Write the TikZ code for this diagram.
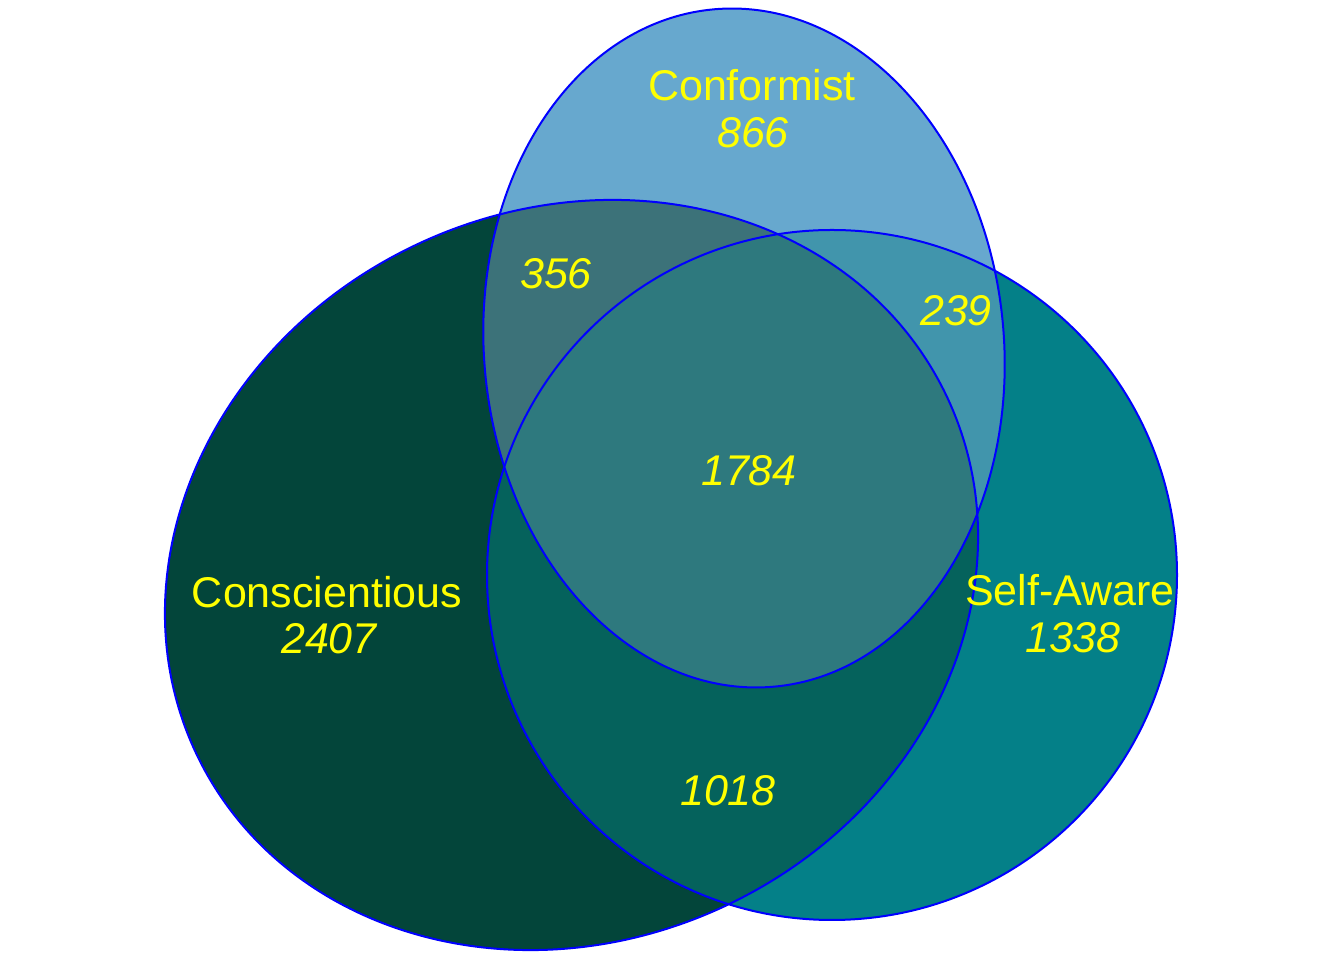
\documentclass[tikz,border=0pt]{standalone}
\usepackage{fontspec}
\setmainfont{Liberation Sans}
\definecolor{consC}{HTML}{03453A}
\definecolor{selfC}{HTML}{048088}
\definecolor{confC}{HTML}{67A8CE}
\definecolor{consSelf}{HTML}{05625C}
\definecolor{consConf}{HTML}{3C7279}
\definecolor{confSelf}{HTML}{4195AC}
\definecolor{allC}{HTML}{2E797E}
\definecolor{edgeC}{HTML}{0000FF}
\definecolor{labC}{HTML}{FFFF00}
\tikzset{
  lab/.style={text=labC, inner sep=0pt, anchor=base, font=\fontsize{43}{47}\selectfont},
  num/.style={lab, font=\fontsize{43}{47}\selectfont\itshape},
  outline/.style={draw=edgeC, line width=2pt},
  consT/.style={rotate around={25.8:(571.5,385)}},
  confT/.style={rotate around={5:(744,612)}},
}
\def\conspath{(571.5,385) ellipse [x radius=415.6, y radius=364.9]}
\def\confpath{(744,612) ellipse [x radius=260, y radius=340]}
\def\selfpath{(832,385) circle [radius=345]}
\begin{document}
\begin{tikzpicture}[x=1pt,y=1pt]
\useasboundingbox (0,0) rectangle (1344,960);
\fill[white] (0,0) rectangle (1344,960);
% base fills
\fill[consC, consT] \conspath;
\fill[selfC] \selfpath;
\fill[confC, confT] \confpath;
% pairwise overlaps
\begin{scope}
  \clip[consT] \conspath;
  \fill[consSelf] \selfpath;
  \fill[consConf, confT] \confpath;
\end{scope}
\begin{scope}
  \clip \selfpath;
  \fill[confSelf, confT] \confpath;
\end{scope}
\begin{scope}
  \clip[consT] \conspath;
  \clip \selfpath;
  \fill[allC, confT] \confpath;
\end{scope}
% outlines
\draw[outline, consT] \conspath;
\draw[outline] \selfpath;
\draw[outline, confT] \confpath;
% labels
\node[lab] (conf) at (752,859.5) {Conformist};
\node[num] (conf-n) at (753,812) {866};
\node[num] (n356) at (556,671.5) {356};
\node[num] (n239) at (956,634.5) {239};
\node[num] (n1784) at (749,474.5) {1784};
\node[lab] (cons) at (327,352.5) {Conscientious};
\node[num] (cons-n) at (329,306.5) {2407};
\node[lab] (self) at (1070,354.5) {Self-Aware};
\node[num] (self-n) at (1073,307.5) {1338};
\node[num] (n1018) at (728,154.5) {1018};
\end{tikzpicture}
\end{document}
